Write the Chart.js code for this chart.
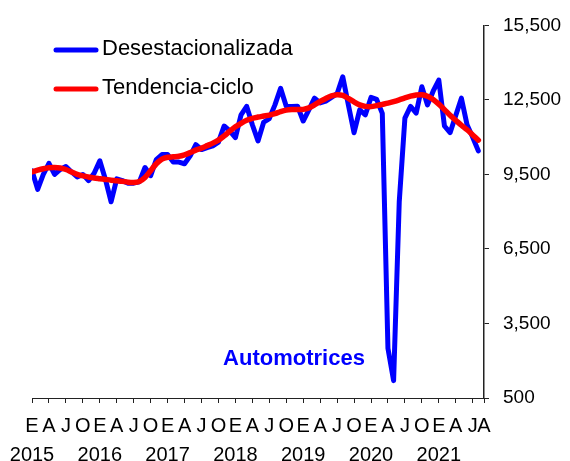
<!DOCTYPE html>
<html>
<head>
<meta charset="utf-8">
<script src="https://cdn.jsdelivr.net/npm/chart.js@4/dist/chart.umd.min.js"></script>
<style>
  body { margin: 0; background: #fff; }
  canvas { display: block; }
</style>
</head>
<body>
<canvas id="chart" width="570" height="461"></canvas>
<script>
// serie mensual ene-2015 a ago-2021
const anios = [2015, 2016, 2017, 2018, 2019, 2020, 2021];
const letrasTrimestre = ['E', 'A', 'J', 'O'];
const ultimaLetra = 'A';

const desestacionalizada = [
  9650, 8900, 9500, 9950, 9500, 9700, 9820, 9600, 9400, 9500, 9250, 9550,
  10050, 9300, 8400, 9320, 9250, 9150, 9150, 9200, 9780, 9450, 10100, 10300,
  10300, 10000, 10000, 9930, 10250, 10700, 10500, 10580, 10650, 10800, 11450, 11250,
  10980, 11900, 12240, 11500, 10850, 11600, 11750, 12300, 12970, 12250, 12240, 12250,
  11650, 12100, 12570, 12380, 12450, 12600, 12750, 13430, 12300, 11180, 12100, 11900,
  12600, 12520, 11960, 2500, 1200, 8400, 11770, 12240, 11970, 13030, 12300, 12850,
  13300, 11450, 11180, 11870, 12570, 11500, 11000, 10450
];

const tendenciaCiclo = [
  9600, 9670, 9730, 9770, 9780, 9760, 9700, 9600, 9500, 9440, 9400, 9360,
  9330, 9300, 9270, 9250, 9220, 9190, 9180, 9220, 9380, 9650, 9930, 10120,
  10190, 10210, 10230, 10290, 10380, 10480, 10560, 10660, 10760, 10880, 11050, 11240,
  11420, 11560, 11680, 11760, 11810, 11850, 11890, 11950, 12030, 12090, 12110, 12110,
  12120, 12180, 12300, 12440, 12560, 12660, 12710, 12680, 12560, 12420, 12300, 12240,
  12230, 12270, 12320, 12370, 12430, 12500, 12580, 12650, 12700, 12710, 12650, 12520,
  12330, 12110, 11880, 11680, 11480, 11300, 11090, 10880
];

const yTicks = [500, 3500, 6500, 9500, 12500, 15500];

// marcas del eje x cada trimestre, y una etiqueta por trimestre (año bajo enero)
const xMarcas = [];
const etiquetaDe = {};
for (let i = 0; i < 80; i += 3) {
  xMarcas.push(i);
  const letra = letrasTrimestre[(i % 12) / 3];
  etiquetaDe[i] = [letra, i % 12 === 0 ? String(anios[i / 12]) : ''];
}
xMarcas.push(80);
const xEtiquetas = Object.keys(etiquetaDe).map(Number);
xEtiquetas.push(80);
etiquetaDe[80] = [ultimaLetra, ''];

const leyendaPlugin = {
  id: 'leyenda',
  afterDraw(chart) {
    const ctx = chart.ctx;
    ctx.save();
    const filas = [
      { ds: chart.data.datasets[0], y: 49 },
      { ds: chart.data.datasets[1], y: 88 }
    ];
    filas.forEach(f => {
      ctx.strokeStyle = f.ds.borderColor;
      ctx.lineWidth = 5;
      ctx.lineCap = 'round';
      ctx.beginPath();
      ctx.moveTo(56, f.y + 1);
      ctx.lineTo(96, f.y + 1);
      ctx.stroke();
      ctx.fillStyle = '#000';
      ctx.font = '22px "Liberation Sans", Arial, sans-serif';
      ctx.textBaseline = 'middle';
      ctx.textAlign = 'left';
      ctx.fillText(f.ds.label, 102, f.y);
    });
    ctx.fillStyle = '#0000FF';
    ctx.font = 'bold 22px "Liberation Sans", Arial, sans-serif';
    ctx.textAlign = 'center';
    ctx.fillText('Automotrices', 294, 359);
    ctx.restore();
  }
};

const fuente = '"Liberation Sans", Arial, sans-serif';

new Chart(document.getElementById('chart'), {
  type: 'line',
  data: {
    datasets: [
      {
        label: 'Desestacionalizada',
        data: desestacionalizada.map((v, i) => ({ x: i, y: v })),
        borderColor: '#0000FF',
        borderWidth: 5,
        borderJoinStyle: 'round',
        borderCapStyle: 'round',
        pointRadius: 0,
        tension: 0,
        order: 2
      },
      {
        label: 'Tendencia-ciclo',
        data: tendenciaCiclo.map((v, i) => ({ x: i, y: v })),
        borderColor: '#FF0000',
        borderWidth: 5.5,
        borderJoinStyle: 'round',
        borderCapStyle: 'round',
        pointRadius: 0,
        tension: 0.3,
        order: 1
      }
    ]
  },
  options: {
    responsive: false,
    animation: false,
    layout: { padding: { left: 32, top: 22, right: 0, bottom: 0 } },
    plugins: {
      legend: { display: false },
      tooltip: { enabled: false }
    },
    scales: {
      x: {
        type: 'linear',
        min: 0,
        max: 80,
        weight: 0,
        afterBuildTicks: (scale) => {
          scale.ticks = xMarcas.map(v => ({ value: v }));
        },
        afterFit: (scale) => { scale.height = 5; },
        ticks: { display: false },
        grid: { drawOnChartArea: false, drawTicks: true, tickLength: 5, color: '#222' },
        border: { display: true, color: '#222', width: 1 }
      },
      x2: {
        type: 'linear',
        position: 'bottom',
        min: 0,
        max: 80,
        weight: 1,
        afterBuildTicks: (scale) => {
          scale.ticks = xEtiquetas.map(v => ({ value: v }));
        },
        afterFit: (scale) => { scale.height = 58; },
        ticks: {
          autoSkip: false,
          maxRotation: 0,
          padding: 9,
          color: '#000',
          font: { family: fuente, size: 20, lineHeight: 1.45 },
          callback: (value) => etiquetaDe[value]
        },
        grid: { display: false, drawTicks: false },
        border: { display: false }
      },
      y: {
        position: 'right',
        min: 500,
        max: 15500,
        afterBuildTicks: (scale) => {
          scale.ticks = yTicks.map(v => ({ value: v }));
        },
        afterFit: (scale) => { scale.width = 86; },
        ticks: {
          padding: 14,
          color: '#000',
          font: { family: fuente, size: 19 },
          callback: (value) => value.toLocaleString('en-US')
        },
        grid: { drawOnChartArea: false, drawTicks: true, tickLength: 5, color: '#222' },
        border: { display: true, color: '#222', width: 1.5 }
      }
    }
  },
  plugins: [leyendaPlugin]
});
</script>
</body>
</html>
